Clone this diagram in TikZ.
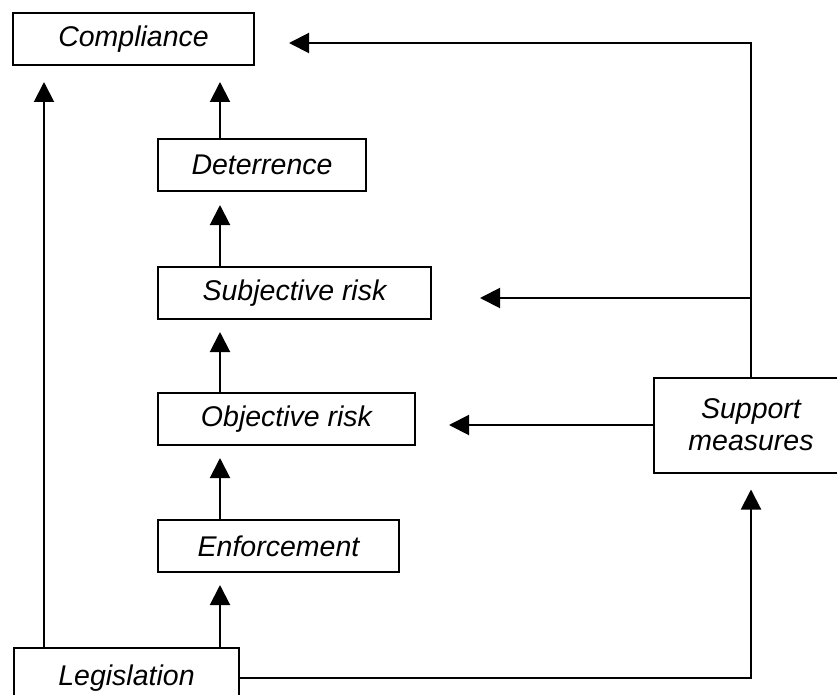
\documentclass[tikz,border=0pt]{standalone}
\usepackage{fontspec}
\setmainfont{Liberation Sans}
\usepackage{tikz}
\usetikzlibrary{positioning, arrows.meta}

\begin{document}
\begin{tikzpicture}[x=1pt, y=-1pt,
        box/.style={draw, line width=2pt, minimum height=52pt, inner sep=0pt, align=center},
        ->,>={Triangle[length=20pt,width=20pt]},line width=2pt]
        \tikzstyle{every node}=[font=\itshape\fontsize{28.5}{32}\selectfont]
            \clip (0,0) rectangle (837,695);
            \node[box, minimum width=241pt, anchor=north west] (comp) at (12,12) {Compliance};
            \node[box, minimum width=208pt, below right=72pt and 145pt of comp.south west, anchor=north west] (deter) {Deterrence};
            \node[box, minimum width=273pt, below=74pt of deter.south west, anchor=north west] (subj) {Subjective risk};
            \node[box, minimum width=257pt, below=72pt of subj.south west, anchor=north west] (obj) {Objective risk};
            \node[box, minimum width=241pt, below=73pt of obj.south west, anchor=north west] (enf) {Enforcement};
            \node[box, minimum width=225pt, minimum height=60pt, below left=74pt and 144pt of enf.south west, anchor=north west] (legis) {Legislation};
            \node[box, minimum width=194pt, minimum height=95pt, right=237pt of obj.east, anchor=west, yshift=-6pt] (support) {Support\\measures};

            \coordinate (lcol) at (44,0);
            \coordinate (mcol) at (220,0);
            \coordinate (ctop) at (0,43);
            \coordinate (cmid) at (0,298);

            \draw[shorten >=16pt] (legis.north -| lcol) -- (comp.south -| lcol);
            \draw[shorten >=16pt] (deter.north -| mcol) -- (comp.south -| mcol);
            \draw[shorten >=13pt] (subj.north -| mcol) -- (deter.south -| mcol);
            \draw[shorten >=12pt] (obj.north -| mcol) -- (subj.south -| mcol);
            \draw[shorten >=12pt] (enf.north -| mcol) -- (obj.south -| mcol);
            \draw[shorten >=12pt] (legis.north -| mcol) -- (enf.south -| mcol);

            \draw[shorten >=34pt] (support.north) -- (support.north |- ctop) -- (comp.east |- ctop);
            \draw[shorten >=48pt] (support.north |- cmid) -- (subj.east |- cmid);
            \draw[shorten >=33pt] (support.west) -- (obj.east |- support.west);
            \draw[shorten >=16pt] (legis.east) -| (support.south);
        \end{tikzpicture}
\end{document}
